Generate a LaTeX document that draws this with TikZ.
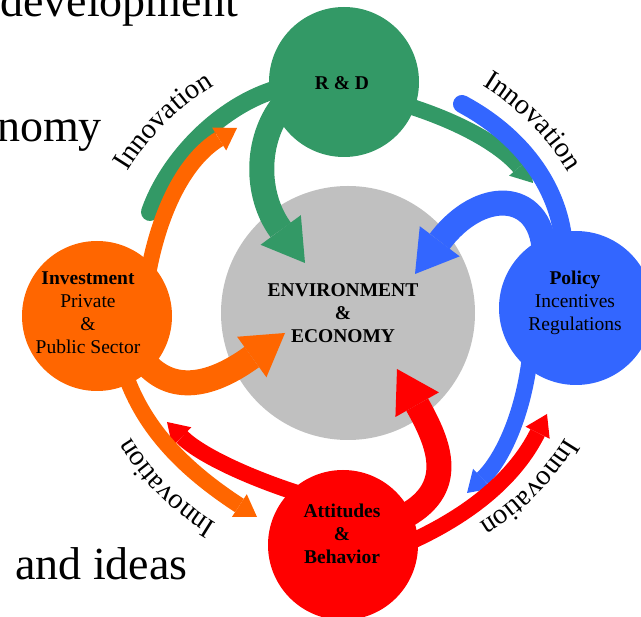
\documentclass[tikz,border=0pt]{standalone}
\usepackage{fontspec}
\setmainfont{Liberation Serif}
\usetikzlibrary{arrows.meta, decorations.text}

\definecolor{rdgreen}{HTML}{339966}
\definecolor{invorange}{HTML}{FF6600}
\definecolor{polblue}{HTML}{3366FF}
\definecolor{attred}{HTML}{FF0000}
\definecolor{envgray}{HTML}{C0C0C0}

\begin{document}
\begin{tikzpicture}[x=1pt, y=1pt,
    disc/.style={circle, minimum size=150pt, inner sep=0pt},
    lbl/.style={align=center, inner sep=0pt, font=\fontsize{19.5}{23}\selectfont},
    backtext/.style={inner sep=0pt, font=\fontsize{46}{50}\selectfont},
    band/.style={line width=18pt, line cap=round, shorten <=-10pt},
    bigflow/.style={line width=25pt, shorten <=-12pt,
        -{Triangle[width=50pt, length=41pt, line width=0pt]}},
    smallflow/.style={line width=16pt, shorten <=-10pt,
        -{Triangle[width=27pt, length=21pt, line width=0pt]}},
    innov/.style={decorate, decoration={text along path, text align=center,
        text={|\fontsize{28.5}{28.5}\selectfont|Innovation}}}]
  \useasboundingbox (0,0) rectangle (641,-617);
  \clip (0,0) rectangle (641,-617);

  % slide text behind the chart
  \node[backtext, anchor=base west] (devtxt)   at (0,-17)    {development};
  \node[backtext, anchor=base east] (nomytxt)  at (102,-142) {nomy};
  \node[backtext, anchor=base west] (ideastxt) at (15,-580)  {and ideas};

  \node[disc, minimum size=254pt, fill=envgray] (env) at (348,-313) {};
  \node[disc, fill=rdgreen]   (rd)  at (344,-82)  {};
  \node[disc, fill=invorange] (inv) at (97,-316)  {};
  \node[disc, minimum size=154pt, fill=polblue] (pol) at (576,-308) {};
  \node[disc, fill=attred]    (att) at (343,-545) {};

  \node[lbl] (envtxt) at (343,-313) {\textbf{ENVIRONMENT}\\\textbf{\&}\\\textbf{ECONOMY}};
  \node[lbl] (rdtxt)  at (342,-83)  {\textbf{R \& D}};
  \node[lbl] (invtxt) at (88,-313)  {\textbf{Investment}\\Private\\\&\\Public Sector};
  \node[lbl] (poltxt) at (575,-303) {\textbf{Policy}\\Incentives\\Regulations};
  \node[lbl] (atttxt) at (342,-534) {\textbf{Attitudes}\\\textbf{\&}\\\textbf{Behavior}};

  \coordinate (rdend)   at (150,-212);
  \coordinate (rdtipA)  at (305,-263);
  \coordinate (rdtipB)  at (533,-183);
  \coordinate (polend)  at (462,-104);
  \coordinate (poltipA) at (415,-274);
  \coordinate (poltipB) at (467,-493);
  \coordinate (atttipA) at (397,-369);
  \coordinate (atttipB) at (547,-414);
  \coordinate (atttipC) at (167,-422);
  \coordinate (invtipA) at (237,-128);
  \coordinate (invtipB) at (285,-333);
  \coordinate (invtipC) at (257,-517);

  % R & D
  \draw[band, rdgreen] (rd.187) .. controls (220,-105) and (168,-160) .. (rdend);
  \draw[bigflow, rdgreen] (rd.205) .. controls (255,-140) and (255,-195) .. (rdtipA);
  \draw[smallflow, rdgreen] (rd.-20) .. controls (470,-125) and (505,-150) .. (rdtipB);

  % Policy
  \draw[band, polblue] (pol.100) .. controls (558,-185) and (520,-135) .. (polend);
  \draw[bigflow, polblue] (pol.115) .. controls (540,-190) and (480,-188) .. (poltipA);
  \draw[smallflow, polblue] (pol.232) .. controls (522,-420) and (500,-462) .. (poltipB);

  % Attitudes
  \draw[bigflow, attred] (att.25) .. controls (458,-490) and (440,-445) .. (atttipA);
  \draw[smallflow, attred] (att.5) .. controls (470,-515) and (515,-478) .. (atttipB);
  \draw[smallflow, attred] (att.134) .. controls (250,-478) and (200,-455) .. (atttipC);

  % Investment
  \draw[smallflow, invorange] (inv.45) .. controls (160,-210) and (185,-160) .. (invtipA);
  \draw[bigflow, invorange] (inv.-45) .. controls (175,-400) and (220,-380) .. (invtipB);
  \draw[smallflow, invorange] (inv.-65) .. controls (145,-430) and (185,-470) .. (invtipC);

  % labels round the ring
  \coordinate (lc) at (348,-306);
  \path[innov] ([shift={(165:258pt)}]lc) arc[start angle=165, end angle=105, radius=258pt];
  \path[innov] ([shift={(75:258pt)}]lc) arc[start angle=75, end angle=15, radius=258pt];
  \path[innov] ([shift={(-15:254pt)}]lc) arc[start angle=-15, end angle=-75, radius=254pt];
  \path[innov] ([shift={(-105:254pt)}]lc) arc[start angle=-105, end angle=-165, radius=254pt];
\end{tikzpicture}
\end{document}
